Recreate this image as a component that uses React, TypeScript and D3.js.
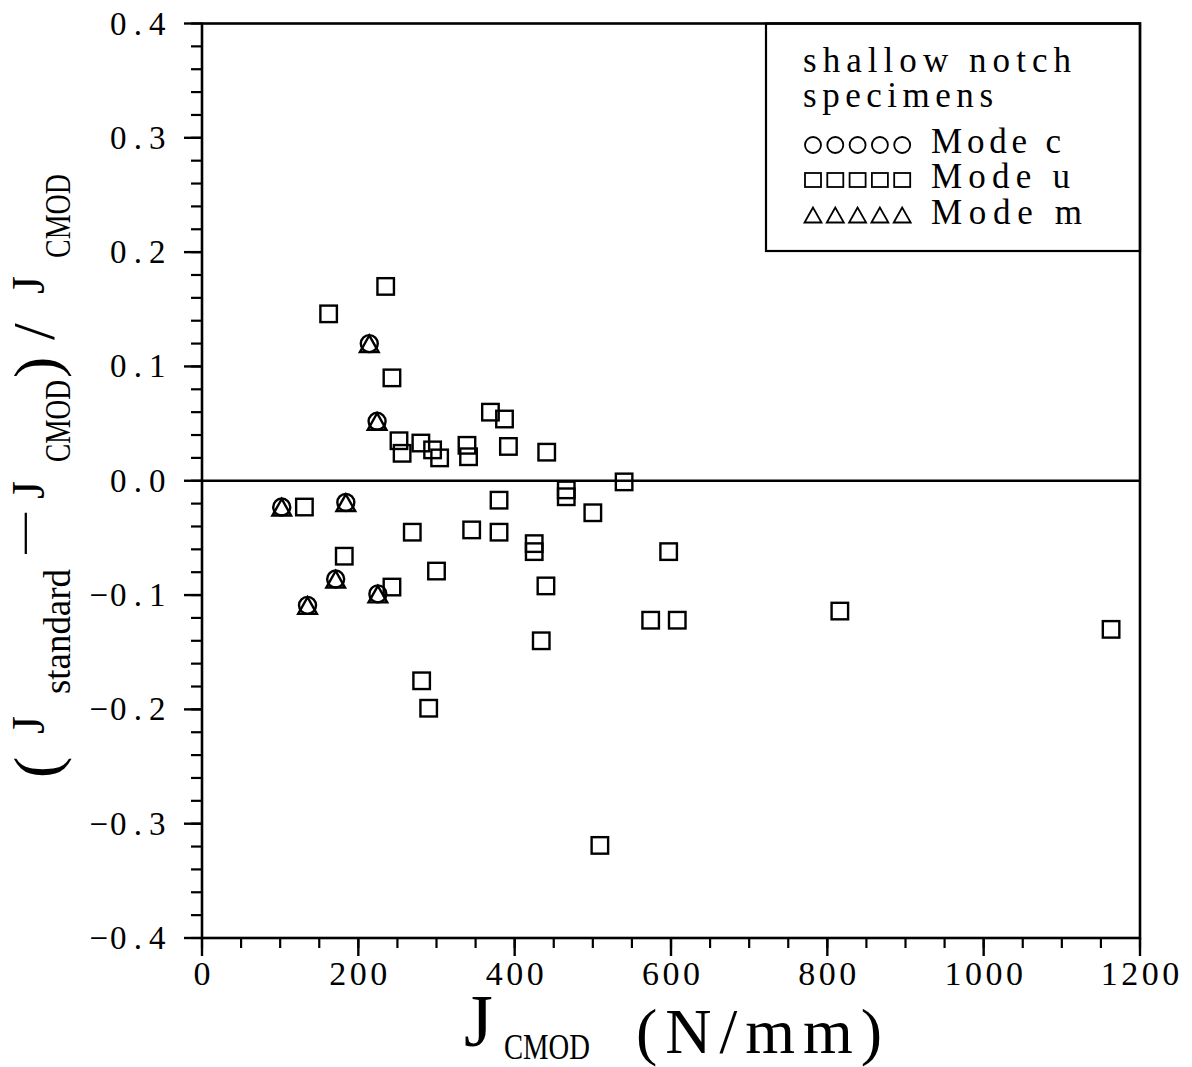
import React from "react";
import * as d3 from "d3";

// ---- data ----
const modeU_x = [235, 162, 243, 252, 256, 280, 295, 304, 339, 341, 369, 387, 392, 441,
  540, 131, 380, 466, 466, 500, 269, 345, 380, 425, 425, 182, 300, 243, 440, 597,
  574, 608, 816, 1163, 434, 281, 290, 509];
const modeU_y = [0.170, 0.146, 0.090, 0.035, 0.024, 0.033, 0.027, 0.020, 0.031, 0.021, 0.060, 0.054, 0.030, 0.025,
  -0.001, -0.023, -0.017, -0.008, -0.014, -0.028, -0.045, -0.043, -0.045, -0.055, -0.062, -0.066, -0.079, -0.093, -0.092, -0.062,
  -0.122, -0.122, -0.114, -0.130, -0.140, -0.175, -0.199, -0.319];
const modeC_x = [214, 224, 102, 184, 171, 135, 225];
const modeC_y = [0.120, 0.052, -0.023, -0.019, -0.086, -0.109, -0.099];
const modeM_x = [214, 224, 102, 184, 171, 135, 225];
const modeM_y = [0.120, 0.052, -0.023, -0.019, -0.086, -0.109, -0.099];

const xTickValues = [0, 200, 400, 600, 800, 1000, 1200];
const yTickValues = [-0.4, -0.3, -0.2, -0.1, 0.0, 0.1, 0.2, 0.3, 0.4];
const legendTitle = ["shallow notch", "specimens"];
const legendLabels = ["Mode c", "Mode u", "Mode m"];

const W = 1192, H = 1067;
const xScale = d3.scaleLinear().domain([0, 1200]).range([202, 1140]);
const yScale = d3.scaleLinear().domain([-0.4, 0.4]).range([938, 23.5]);

const SERIF = "'Liberation Serif', 'Times New Roman', serif";
const SW = 2.4;

// monospace emulation: each character centred in its own cell
function MonoText({ s, x, y, cell, size, anchor = "start" }:
  { s: string; x: number; y: number; cell: number; size: number; anchor?: "start" | "middle" | "end" }) {
  const chars = Array.from(s);
  const n = chars.length;
  const start = anchor === "start" ? x : anchor === "middle" ? x - (n * cell) / 2 : x - n * cell;
  const xs = chars.map((_, i) => (start + (i + 0.5) * cell).toFixed(1)).join(" ");
  return (
    <text x={xs} y={y} textAnchor="middle" fontFamily={SERIF} fontSize={size} fill="#000">
      {s}
    </text>
  );
}

function Square({ cx, cy, s }: { cx: number; cy: number; s: number }) {
  return <rect x={cx - s / 2} y={cy - s / 2} width={s} height={s} fill="none" stroke="#000" strokeWidth={SW} />;
}
function Circle({ cx, cy, r }: { cx: number; cy: number; r: number }) {
  return <circle cx={cx} cy={cy} r={r} fill="none" stroke="#000" strokeWidth={SW} />;
}
function Tri({ cx, cy, r }: { cx: number; cy: number; r: number }) {
  const p = [[cx, cy - r * 0.95], [cx - r * 1.1, cy + r], [cx + r * 1.1, cy + r]];
  return <polygon points={p.map((q) => q.join(",")).join(" ")} fill="none" stroke="#000" strokeWidth={SW} />;
}

export default function App() {
  const yMinor = yScale.ticks(40);
  const xMinor = xScale.ticks(24);
  const fmtY = d3.format(".1f");
  const x0 = xScale.range()[0], x1 = xScale.range()[1];
  const yTop = yScale.range()[1], yBot = yScale.range()[0];

  const legLeft = 766, legBottom = 251;
  const symX0 = 813, symDX = 22.3;
  const rowY = [145, 180, 215.5];
  const titleLens = [268, 190];
  const labelLens = [130, 139, 151];

  return (
    <svg width={W} height={H} style={{ position: "absolute", left: 0, top: 0, background: "#fff" }}>
      <rect x={0} y={0} width={W} height={H} fill="#fff" />
      {/* frame */}
      <rect x={x0} y={yTop} width={x1 - x0} height={yBot - yTop} fill="none" stroke="#000" strokeWidth={2.6} />
      {/* zero line */}
      <line x1={x0} x2={x1} y1={yScale(0)} y2={yScale(0)} stroke="#000" strokeWidth={2.6} />

      {/* y ticks */}
      {yMinor.map((t, i) => (
        <line key={"ym" + i} x1={x0 - 11} x2={x0} y1={yScale(t)} y2={yScale(t)} stroke="#000" strokeWidth={2.2} />
      ))}
      {yTickValues.map((t, i) => (
        <g key={"yM" + i}>
          <line x1={x0 - 18} x2={x0} y1={yScale(t)} y2={yScale(t)} stroke="#000" strokeWidth={2.4} />
          <MonoText s={fmtY(t)} x={167} y={yScale(t) + 11} cell={19.5} size={33} anchor="end" />
        </g>
      ))}

      {/* x ticks */}
      {xMinor.map((t, i) => (
        <line key={"xm" + i} x1={xScale(t)} x2={xScale(t)} y1={yBot} y2={yBot + 10} stroke="#000" strokeWidth={2.2} />
      ))}
      {xTickValues.map((t, i) => (
        <g key={"xM" + i}>
          <line x1={xScale(t)} x2={xScale(t)} y1={yBot} y2={yBot + 18} stroke="#000" strokeWidth={2.4} />
          <MonoText s={String(t)} x={xScale(t)} y={985} cell={20.5} size={34} anchor="middle" />
        </g>
      ))}

      {/* data */}
      {modeU_x.map((v, i) => (
        <Square key={"u" + i} cx={xScale(v)} cy={yScale(modeU_y[i])} s={16.5} />
      ))}
      {modeC_x.map((v, i) => (
        <Circle key={"c" + i} cx={xScale(v)} cy={yScale(modeC_y[i])} r={8.5} />
      ))}
      {modeM_x.map((v, i) => (
        <Tri key={"m" + i} cx={xScale(v)} cy={yScale(modeM_y[i])} r={8.5} />
      ))}

      {/* legend */}
      <rect x={legLeft} y={yTop} width={x1 - legLeft} height={legBottom - yTop} fill="none" stroke="#000" strokeWidth={2.2} />
      {legendTitle.map((s, i) => (
        <text key={"lt" + i} x={803} y={72 + i * 35} fontFamily={SERIF} fontSize={35} fill="#000"
          textLength={titleLens[i]} lengthAdjust="spacing">{s}</text>
      ))}
      {legendLabels.map((s, i) => (
        <text key={"ll" + i} x={931} y={rowY[i] + 8} fontFamily={SERIF} fontSize={35} fill="#000"
          textLength={labelLens[i]} lengthAdjust="spacing">{s}</text>
      ))}
      {[0, 1, 2, 3, 4].map((k) => {
        const cx = symX0 + k * symDX;
        return (
          <g key={"ls" + k}>
            <circle cx={cx} cy={rowY[0]} r={8} fill="none" stroke="#000" strokeWidth={1.8} />
            <rect x={cx - 8} y={rowY[1] - 7} width={16} height={14} fill="none" stroke="#000" strokeWidth={1.8} />
            <polygon
              points={[[cx, rowY[2] - 8], [cx - 8.5, rowY[2] + 7], [cx + 8.5, rowY[2] + 7]].map((q) => q.join(",")).join(" ")}
              fill="none" stroke="#000" strokeWidth={1.8} />
          </g>
        );
      })}

      {/* x axis title */}
      <text fontFamily={SERIF} fill="#000">
        <tspan x={464} y={1046} fontSize={74}>J</tspan>
        <tspan x={504} y={1059} fontSize={36} textLength={86} lengthAdjust="spacingAndGlyphs">CMOD</tspan>
        <tspan x={636} y={1053} fontSize={64} textLength={246} lengthAdjust="spacing">(N/mm)</tspan>
      </text>

      {/* y axis title (rotated) */}
      <g transform="translate(44,0) rotate(-90)">
        <text fontFamily={SERIF} fill="#000">
          <tspan x={-778} y={14} fontSize={64}>(</tspan>
          <tspan x={-734} y={0} fontSize={46}>J</tspan>
          <tspan x={-694} y={26} fontSize={37} textLength={125} lengthAdjust="spacing">standard</tspan>
          <tspan x={-558} y={-3} fontSize={46} textLength={50} lengthAdjust="spacingAndGlyphs">−</tspan>
          <tspan x={-499} y={0} fontSize={46}>J</tspan>
          <tspan x={-462} y={26} fontSize={35} textLength={82} lengthAdjust="spacingAndGlyphs">CMOD</tspan>
          <tspan x={-378} y={14} fontSize={64}>)</tspan>
          <tspan x={-340} y={10} fontSize={60}>/</tspan>
          <tspan x={-294} y={0} fontSize={46}>J</tspan>
          <tspan x={-258} y={26} fontSize={35} textLength={84} lengthAdjust="spacingAndGlyphs">CMOD</tspan>
        </text>
      </g>
    </svg>
  );
}
